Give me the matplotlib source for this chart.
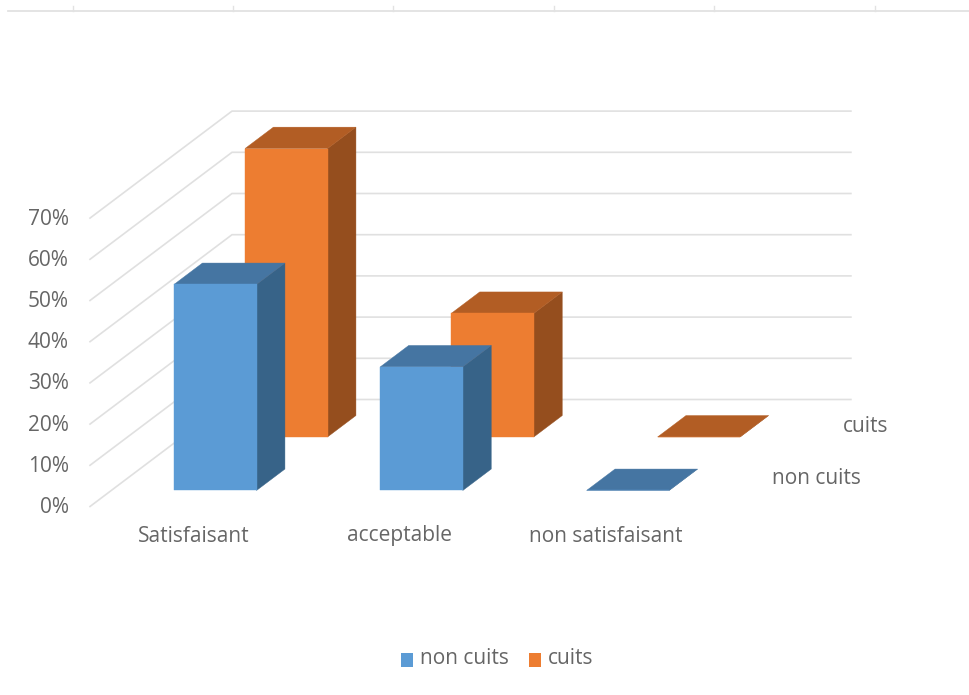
import matplotlib
matplotlib.use("Agg")
import matplotlib.pyplot as plt
from matplotlib.patches import Polygon, Rectangle

categories = ["Satisfaisant", "acceptable", "non satisfaisant"]
series_names = ["non cuits", "cuits"]
non_cuits = [50, 30, 0]
cuits = [70, 30, 0]
y_ticks = [0, 10, 20, 30, 40, 50, 60, 70]

W, H = 969, 695
ORIGIN = (90.0, 506.5)       # front-left floor corner, canvas px
CAT_W = 206.3                # px per category
DEPTH = (142.0, -107.0)      # px for the whole depth axis
PX_PER_PCT = 4.12
BAR_FRAC = 0.4
CAT_GAP = 0.304
SER_GAP = 0.3

BLUE, BLUE_TOP, BLUE_SIDE = "#5B9BD5", "#4575A2", "#376388"
ORANGE, ORANGE_TOP, ORANGE_SIDE = "#ED7D31", "#B25D24", "#954E1E"
GRID = "#E0E0E0"
TXT = "#666666"
FONT = "Open Sans"
FS = 15


def proj(cat, ser, val):
    """Oblique projection: category pos, series pos (0..2), value -> canvas px."""
    d = ser / 2.0
    return (ORIGIN[0] + cat * CAT_W + d * DEPTH[0],
            ORIGIN[1] + d * DEPTH[1] - val * PX_PER_PCT)


fig = plt.figure(figsize=(W / 100, H / 100), dpi=100, facecolor="white")
ax = fig.add_axes([0, 0, 1, 1])
ax.set_xlim(0, W)
ax.set_ylim(H, 0)
ax.axis("off")

# ruler-like line at the top of the screenshot
ruler_x = [73, 233, 393, 554, 714, 875]
ax.plot([8, 969], [11, 11], color="#E2E2E2", lw=1.3, zorder=1)
for rx in ruler_x:
    ax.plot([rx, rx], [6, 11], color="#E2E2E2", lw=1, zorder=1)

# walls
for v in y_ticks:
    a = proj(0, 0, v)
    b = proj(0, 2, v)
    c = proj(3, 2, v)
    ax.plot([a[0], b[0], c[0]], [a[1], b[1], c[1]], color=GRID, lw=1.2,
            solid_joinstyle="miter", zorder=1)
    ax.text(a[0] - 21, a[1] + 1, f"{v}%", ha="right", va="center",
            color=TXT, fontsize=FS, family=FONT)


def bar(cat, ser, val, front, top, side, z):
    x0, x1 = cat + CAT_GAP, cat + CAT_GAP + BAR_FRAC
    s0, s1 = ser + SER_GAP, ser + SER_GAP + BAR_FRAC
    faces = [
        ([proj(x1, s0, 0), proj(x1, s1, 0), proj(x1, s1, val), proj(x1, s0, val)], side),
        ([proj(x0, s0, val), proj(x1, s0, val), proj(x1, s1, val), proj(x0, s1, val)], top),
        ([proj(x0, s0, 0), proj(x1, s0, 0), proj(x1, s0, val), proj(x0, s0, val)], front),
    ]
    for pts, col in faces:
        ax.add_patch(Polygon(pts, closed=True, facecolor=col, edgecolor=col,
                             lw=0.3, zorder=z))


z = 2
for ser, (vals, cols) in reversed(list(enumerate([
        (non_cuits, (BLUE, BLUE_TOP, BLUE_SIDE)),
        (cuits, (ORANGE, ORANGE_TOP, ORANGE_SIDE))]))):
    for cat, v in enumerate(vals):
        bar(cat, ser, v, *cols, z)
        z += 1

# category labels
for i, name in enumerate(categories):
    ax.text(ORIGIN[0] + (i + 0.5) * CAT_W + 0.5, 536, name, ha="center", va="center",
            color=TXT, fontsize=FS, family=FONT)

# series labels at the right
ax.text(888, 426, series_names[1], ha="right", va="center", color=TXT,
        fontsize=FS, family=FONT)
ax.text(861, 478, series_names[0], ha="right", va="center", color=TXT,
        fontsize=FS, family=FONT)

# legend
ax.add_patch(Rectangle((401, 652.5), 12, 14, facecolor=BLUE, edgecolor="none", zorder=5))
ax.text(420, 658.5, series_names[0], ha="left", va="center", color=TXT,
        fontsize=FS, family=FONT)
ax.add_patch(Rectangle((529, 652.5), 12, 14, facecolor=ORANGE, edgecolor="none", zorder=5))
ax.text(548, 658.5, series_names[1], ha="left", va="center", color=TXT,
        fontsize=FS, family=FONT)

fig.savefig("out.png", dpi=100, facecolor="white")
